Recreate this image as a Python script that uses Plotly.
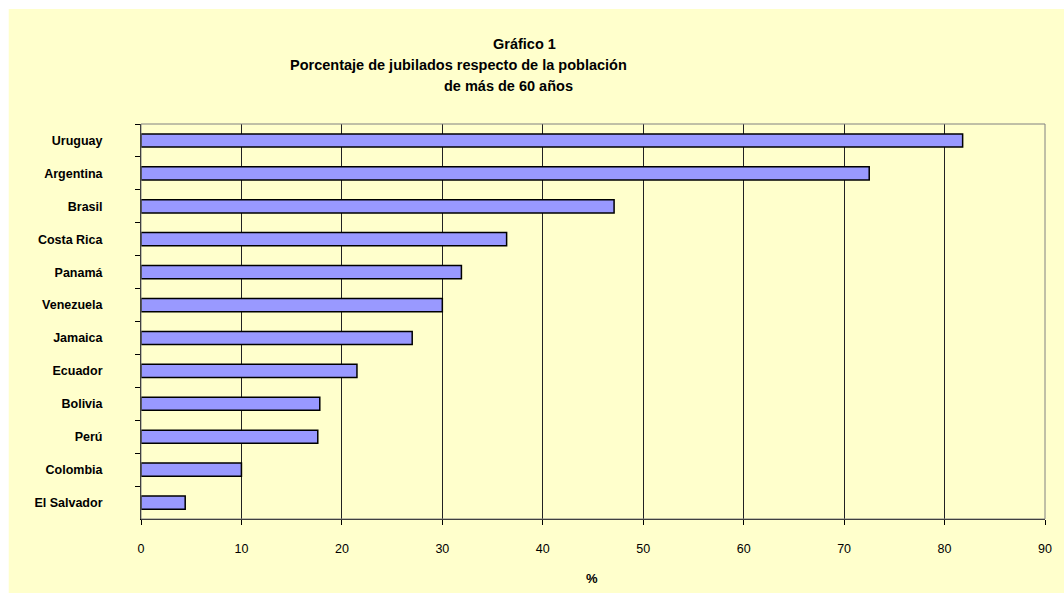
import plotly.graph_objects as go

# Share of retirees among the population aged 60+ (%)
paises = ["Uruguay", "Argentina", "Brasil", "Costa Rica", "Panamá", "Venezuela",
          "Jamaica", "Ecuador", "Bolivia", "Perú", "Colombia", "El Salvador"]
porcentajes = [81.8, 72.5, 47.1, 36.4, 31.9, 30.0, 27.0, 21.5, 17.8, 17.6, 10.0, 4.4]
ticks_x = [0, 10, 20, 30, 40, 50, 60, 70, 80, 90]

W, H = 1064, 593
ML, MR, MT, MB = 141, 14, 124, 74
pw, ph = W - ML - MR, H - MT - MB

fig = go.Figure(go.Bar(
    x=porcentajes, y=paises, orientation="h",
    marker=dict(color="#9999FF", line=dict(color="#000000", width=1.5)),
    width=0.4,
))

# yellow chart-area frame, slightly inset from the page's top-left corner
fig.add_shape(type="rect", xref="paper", yref="paper", layer="below",
              x0=(8 - ML) / pw, x1=(W + 10 - ML) / pw,
              y0=-(MB + 10) / ph, y1=(H - 9 - MB) / ph,
              fillcolor="#FFFFCC", line=dict(width=0))
# plot-area border (top / right)
fig.add_shape(type="rect", xref="paper", yref="paper",
              x0=0, x1=1, y0=0, y1=1, line=dict(color="#808080", width=1))

font = "Liberation Sans, Arial, sans-serif"
titulos = [("<b>Gráfico 1</b>", 527, 44),
           ("<b>Porcentaje de jubilados respecto de la población</b>", 460, 65),
           ("<b>de más de 60 años</b>", 511, 86)]
for txt, cx, cy in titulos:
    fig.add_annotation(text=txt, xref="paper", yref="paper",
                       x=(cx - ML) / pw, y=(H - MB - cy) / ph,
                       xanchor="center", yanchor="middle", showarrow=False,
                       font=dict(family=font, size=14.5, color="#000"))
fig.add_annotation(text="<b>%</b>", xref="paper", yref="paper",
                   x=(594 - ML) / pw, y=-(578 - (H - MB)) / ph,
                   xanchor="center", yanchor="middle", showarrow=False,
                   font=dict(family=font, size=13, color="#000"))

fig.update_layout(
    width=W, height=H,
    margin=dict(l=ML, r=MR, t=MT, b=MB, pad=0),
    paper_bgcolor="#FFFFFF", plot_bgcolor="#FFFFFF",
    showlegend=False,
    font=dict(family=font, color="#000"),
    xaxis=dict(range=[0, 90], tickvals=ticks_x, showgrid=True,
               gridcolor="#222222", gridwidth=1, zeroline=False,
               showline=True, linecolor="#000", linewidth=1,
               ticks="outside", ticklen=5, tickcolor="#000",
               tickfont=dict(size=12.5, family=font), ticklabelstandoff=13),
    yaxis=dict(categoryorder="array", categoryarray=paises, autorange="reversed",
               showgrid=False, zeroline=False,
               showline=True, linecolor="#000", linewidth=1,
               ticks="outside", ticklen=5, tickcolor="#000",
               tickson="boundaries",
               tickfont=dict(size=12.5, family=font, weight="bold"),
               ticklabelstandoff=35),
)

fig.write_html("out.html")
